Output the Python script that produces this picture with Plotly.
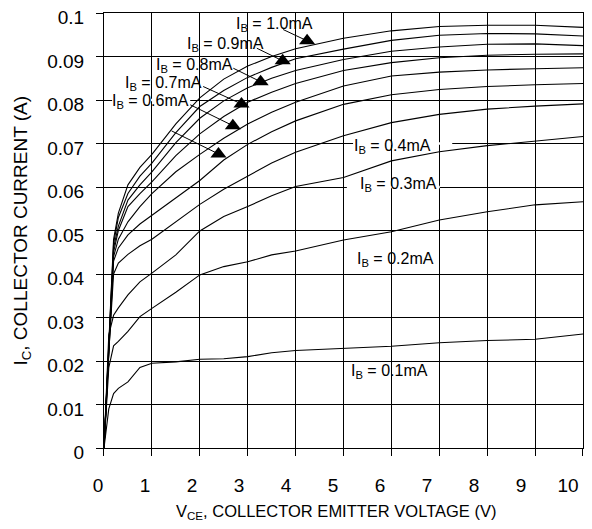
import plotly.graph_objects as go

# ---- data ----
vce = [0, 0.1, 0.2, 0.3, 0.5, 0.75, 1, 1.5, 2, 2.5, 3, 3.5, 4, 5, 6, 7, 8, 9, 10]

ic_01 = [0, 0.0090, 0.0125, 0.0137, 0.0152, 0.0185, 0.0195, 0.0198, 0.0204, 0.0205, 0.0210, 0.0219, 0.0224, 0.0229, 0.0234, 0.0242, 0.0247, 0.0250, 0.0262]
ic_02 = [0, 0.0185, 0.0235, 0.0245, 0.0268, 0.0302, 0.0321, 0.0358, 0.0398, 0.0417, 0.0428, 0.0444, 0.0453, 0.0478, 0.0497, 0.0524, 0.0543, 0.0559, 0.0566]
ic_03 = [0, 0.0260, 0.0305, 0.0322, 0.0352, 0.0382, 0.0402, 0.0444, 0.0499, 0.0532, 0.0555, 0.0580, 0.0601, 0.0622, 0.0660, 0.0681, 0.0695, 0.0705, 0.0716]
ic_04 = [0, 0.0220, 0.0400, 0.0425, 0.0445, 0.0465, 0.0480, 0.0520, 0.0560, 0.0595, 0.0625, 0.0655, 0.0680, 0.0718, 0.0748, 0.0767, 0.0779, 0.0786, 0.0791]
ic_05 = [0, 0.0230, 0.0430, 0.0460, 0.0490, 0.0515, 0.0535, 0.0575, 0.0615, 0.0662, 0.0698, 0.0727, 0.0752, 0.0790, 0.0812, 0.0824, 0.0831, 0.0835, 0.0838]
ic_06 = [0, 0.0230, 0.0440, 0.0480, 0.0520, 0.0555, 0.0585, 0.0635, 0.0675, 0.0712, 0.0745, 0.0772, 0.0795, 0.0832, 0.0855, 0.0864, 0.0869, 0.0872, 0.0874]
ic_07 = [0, 0.0240, 0.0450, 0.0500, 0.0555, 0.0585, 0.0612, 0.0672, 0.0722, 0.0762, 0.0795, 0.0818, 0.0838, 0.0868, 0.0886, 0.0897, 0.0903, 0.0905, 0.0906]
ic_08 = [0, 0.0240, 0.0460, 0.0510, 0.0570, 0.0605, 0.0635, 0.0702, 0.0758, 0.0798, 0.0828, 0.0850, 0.0868, 0.0893, 0.0912, 0.0922, 0.0928, 0.0929, 0.0925]
ic_09 = [0, 0.0250, 0.0470, 0.0530, 0.0585, 0.0625, 0.0655, 0.0725, 0.0785, 0.0822, 0.0852, 0.0875, 0.0895, 0.0917, 0.0937, 0.0949, 0.0953, 0.0952, 0.0947]
ic_10 = [0, 0.0250, 0.0480, 0.0540, 0.0605, 0.0645, 0.0675, 0.0745, 0.0805, 0.0848, 0.0878, 0.0900, 0.0918, 0.0942, 0.0959, 0.0969, 0.0972, 0.0972, 0.0967]

curves = [ic_01, ic_02, ic_03, ic_04, ic_05, ic_06, ic_07, ic_08, ic_09, ic_10]

ib_labels = ["0.1mA", "0.2mA", "0.3mA", "0.4mA", "0.5mA", "0.6mA", "0.7mA", "0.8mA", "0.9mA", "1.0mA"]

x_ticks = [0, 1, 2, 3, 4, 5, 6, 7, 8, 9, 10]
y_ticks = [0, 0.01, 0.02, 0.03, 0.04, 0.05, 0.06, 0.07, 0.08, 0.09, 0.1]
y_tick_text = ["0", "0.01", "0.02", "0.03", "0.04", "0.05", "0.06", "0.07", "0.08", "0.09", "0.1"]

FONT = "Liberation Sans, Arial, Helvetica, sans-serif"

fig = go.Figure()
for ic, lab in zip(curves, ib_labels):
    fig.add_trace(go.Scatter(x=vce, y=ic, mode="lines", name=lab,
                             line=dict(color="black", width=1.1),
                             hoverinfo="skip", showlegend=False))

# label placements (left edge x, middle y) and leader lines for the upper curves
label_pos = {
    "1.0mA": (2.71, 0.0974), "0.9mA": (1.70, 0.0928), "0.8mA": (1.04, 0.0880),
    "0.7mA": (0.40, 0.0838), "0.6mA": (0.12, 0.0796), "0.5mA": (-0.25, 0.0736),
    "0.4mA": (5.18, 0.0693), "0.3mA": (5.30, 0.0605), "0.2mA": (5.25, 0.0434),
    "0.1mA": (5.11, 0.0175),
}
leaders = {
    "1.0mA": ((3.74, 0.0962), (4.24, 0.0936)),
    "0.9mA": ((3.19, 0.0919), (3.73, 0.0890)),
    "0.8mA": ((2.70, 0.0873), (3.27, 0.0842)),
    "0.7mA": ((2.07, 0.0831), (2.87, 0.0791)),
    "0.6mA": ((1.80, 0.0789), (2.69, 0.0741)),
    "0.5mA": ((1.41, 0.0729), (2.39, 0.0676)),
}
# white bands hiding horizontal grid lines behind some labels
bands = [((5.07, 7.01), 0.06), ((5.20, 7.27), 0.07), ((0.17, 1.80), 0.08)]

shapes = []
for (xa, xb), yg in bands:
    shapes.append(dict(type="rect", xref="x", yref="y", x0=xa, x1=xb,
                       y0=yg - 0.0003, y1=yg + 0.0003, layer="between",
                       fillcolor="white", line=dict(width=0)))
tri_x, tri_y = [], []
for lab, (p0, p1) in leaders.items():
    shapes.append(dict(type="line", xref="x", yref="y", x0=p0[0], y0=p0[1],
                       x1=p1[0], y1=p1[1], line=dict(color="black", width=1)))
    tri_x.append(p1[0]); tri_y.append(p1[1])

fig.add_trace(go.Scatter(x=tri_x, y=tri_y, mode="markers",
                         marker=dict(symbol="triangle-up", size=14, color="black",
                                     line=dict(width=0)),
                         hoverinfo="skip", showlegend=False, cliponaxis=False))

# empty trace so the tick-label axes (x2 / y2) get drawn
fig.add_trace(go.Scatter(x=[None], y=[None], xaxis="x2", yaxis="y2", mode="markers",
                         hoverinfo="skip", showlegend=False))

annotations = []
for lab, (lx, ly) in label_pos.items():
    annotations.append(dict(x=lx, y=ly, xref="x", yref="y", xanchor="left", yanchor="middle",
                            text="I<sub>B</sub> = " + lab, showarrow=False,
                            font=dict(family=FONT, size=16, color="black")))
annotations.append(dict(x=0.485, y=-0.147, xref="x domain", yref="y domain", xanchor="center",
                        yanchor="middle", showarrow=False,
                        text="V<sub>CE</sub>, COLLECTOR EMITTER VOLTAGE (V)",
                        font=dict(family=FONT, size=16.5, color="black")))
annotations.append(dict(x=-0.171, y=0.5, xref="x domain", yref="y domain", xanchor="center",
                        yanchor="middle", showarrow=False, textangle=-90,
                        text="I<sub>C</sub>, COLLECTOR CURRENT (A)",
                        font=dict(family=FONT, size=19, color="black")))

grid_axis = dict(showgrid=True, gridcolor="black", gridwidth=1, automargin=False,
                 showline=True, linecolor="black", linewidth=1, mirror=True,
                 ticks="outside", ticklen=7, tickcolor="black", tickwidth=1,
                 zeroline=False, showticklabels=False)
label_axis = dict(showgrid=False, showline=False, zeroline=False, automargin=False,
                  ticks="outside", ticklen=7, tickcolor="rgba(0,0,0,0)",
                  ticklabeloverflow="allow", anchor="free", fixedrange=True,
                  tickfont=dict(family=FONT, size=19, color="black"))

# the page adds an 8px body margin, so the figure is 8px smaller and shifted.
# plot frame: page px x 104..583, y 13..448; tick labels sit on wider helper axes.
X_DOM = [0.10313, 0.98527]
Y_DOM = [0.046053, 1.0]

fig.update_layout(
    width=584, height=521,
    margin=dict(l=40, r=1, t=5, b=60, autoexpand=False),
    paper_bgcolor="white", plot_bgcolor="rgba(0,0,0,0)",
    xaxis=dict(range=[0, 10], domain=X_DOM, tickvals=x_ticks, **grid_axis),
    yaxis=dict(range=[0, 0.1], domain=Y_DOM, tickvals=y_ticks, **grid_axis),
    xaxis2=dict(range=[-1.06383, 10.4894], domain=[0, 1], tickvals=x_ticks,
                side="bottom", position=Y_DOM[0], ticklabelstandoff=13, **label_axis),
    yaxis2=dict(range=[-0.003793, 0.101035], domain=[0, 1], tickvals=y_ticks,
                ticktext=y_tick_text, side="left", position=X_DOM[0],
                ticklabelstandoff=9, **label_axis),
    shapes=shapes, annotations=annotations,
    showlegend=False,
)

fig.write_html("out.html")
